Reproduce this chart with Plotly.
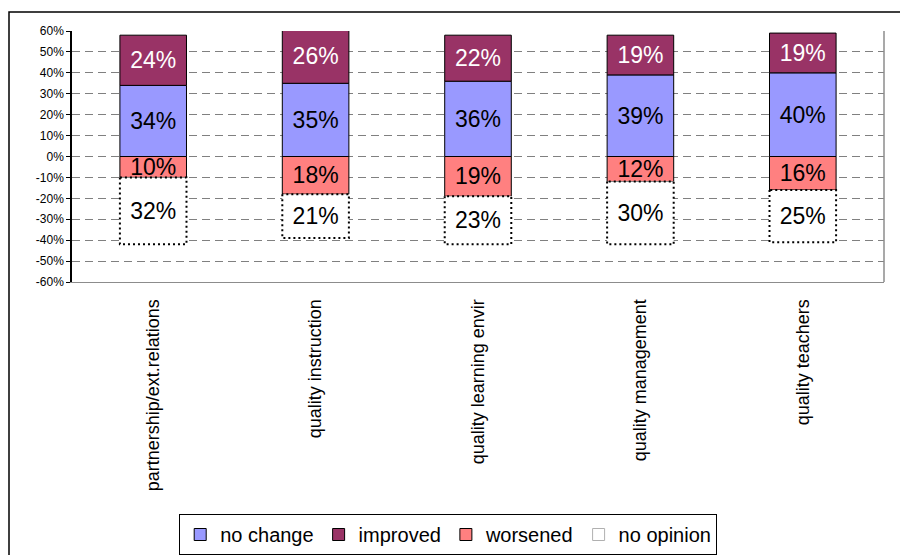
import plotly.graph_objects as go

categories = ["partnership/ext.relations", "quality instruction",
              "quality learning envir", "quality management", "quality teachers"]
no_change = [34, 35, 36, 39, 40]
improved = [24, 26, 22, 19, 19]
worsened = [10, 18, 19, 12, 16]
no_opinion = [32, 21, 23, 30, 25]
y_ticks = [-60, -50, -40, -30, -20, -10, 0, 10, 20, 30, 40, 50, 60]
y_tick_text = [f"{v}%" for v in y_ticks]

FONT = "Liberation Sans, Arial, sans-serif"
BAR_W = 0.41
LABEL_SIZE = 23
xs = list(range(len(categories)))


def pct(v):
    return [x / 100 for x in v]


def labels(v):
    return [f"{x}%" for x in v]


fig = go.Figure()

fig.add_trace(go.Bar(
    x=xs, y=pct(no_change), name="no change",
    marker=dict(color="#9999FF", line=dict(color="black", width=1)),
    text=labels(no_change), textposition="inside", insidetextanchor="middle",
    constraintext="none", textfont=dict(color="black", size=LABEL_SIZE, family=FONT),
))
fig.add_trace(go.Bar(
    x=xs, y=pct(improved), name="improved",
    marker=dict(color="#993366", line=dict(color="black", width=1)),
    text=labels(improved), textposition="inside", insidetextanchor="middle",
    constraintext="none", textfont=dict(color="white", size=LABEL_SIZE, family=FONT),
))
fig.add_trace(go.Bar(
    x=xs, y=[-v for v in pct(worsened)], name="worsened",
    marker=dict(color="#FF8080", line=dict(color="black", width=1)),
    text=labels(worsened), textposition="inside", insidetextanchor="middle",
    constraintext="none", textfont=dict(color="black", size=LABEL_SIZE, family=FONT),
))
fig.add_trace(go.Bar(
    x=xs, y=[-v for v in pct(no_opinion)], name="no opinion", showlegend=False,
    marker=dict(color="white", line=dict(color="white", width=0)),
    text=labels(no_opinion), textposition="inside", insidetextanchor="middle",
    constraintext="none", textfont=dict(color="black", size=LABEL_SIZE, family=FONT),
))

# dotted outline around the "no opinion" segments
ox, oy = [], []
for i, (w, n) in enumerate(zip(worsened, no_opinion)):
    top, bot = -w / 100, -(w + n) / 100
    l, r = i - BAR_W / 2, i + BAR_W / 2
    ox += [l, l, r, r, l, None]
    oy += [top, bot, bot, top, top, None]
fig.add_trace(go.Scatter(
    x=ox, y=oy, mode="lines", showlegend=False, hoverinfo="skip",
    line=dict(color="black", width=2, dash="2px,3px"),
))

# legend entry for the "no opinion" series
fig.add_trace(go.Bar(
    x=[None], y=[None], name="no opinion",
    marker=dict(color="white", line=dict(color="#b0b0b0", width=1)),
))

fig.update_layout(
    width=900, height=555,
    margin=dict(l=72, r=16, t=31, b=273),
    paper_bgcolor="white", plot_bgcolor="white",
    barmode="relative", bargap=1 - BAR_W,
    font=dict(family=FONT, color="black"),
    showlegend=True,
    legend=dict(
        orientation="h", x=0.498, xanchor="center", xref="container",
        y=1 - 514 / 555, yanchor="top", yref="container",
        font=dict(size=20, family=FONT), bordercolor="black", borderwidth=1,
        itemwidth=30, tracegroupgap=0,
    ),
    xaxis=dict(
        range=[-0.5, len(categories) - 0.5], tickvals=xs, ticktext=categories,
        tickangle=-90, tickfont=dict(size=18, family=FONT),
        showgrid=False, zeroline=False, showline=True, linecolor="#8c8c8c",
        linewidth=1, ticks="", ticklabelstandoff=9,
    ),
    xaxis2=dict(
        range=[-0.5, len(categories) - 0.5], overlaying="x", anchor="free",
        position=0.5, side="bottom", layer="above traces",
        tickvals=[i - 0.5 for i in range(len(categories) + 1)],
        ticks="outside", ticklen=5, tickwidth=2, tickcolor="black",
        showticklabels=False, showgrid=False, zeroline=False,
        showline=True, linecolor="black", linewidth=2.5,
    ),
    yaxis=dict(
        range=[-0.6, 0.6], tickvals=[v / 100 for v in y_ticks], ticktext=y_tick_text,
        tickfont=dict(size=12, family=FONT), ticks="outside", ticklen=4,
        tickcolor="black", showline=True, linecolor="black", linewidth=1.5,
        showgrid=True, gridcolor="#808080", griddash="8px,5px", gridwidth=1,
        zeroline=False,
    ),
    shapes=[
        dict(type="line", xref="paper", yref="paper", x0=1, x1=1, y0=0, y1=1,
             line=dict(color="#8c8c8c", width=1.5)),
        dict(type="rect", xref="paper", yref="paper",
             x0=(9 - 72) / 812, x1=(940 - 72) / 812,
             y0=(282 - 600) / 251, y1=(282 - 12) / 251,
             line=dict(color="black", width=1.5), fillcolor="rgba(0,0,0,0)"),
    ],
)

fig.write_html("out.html")
